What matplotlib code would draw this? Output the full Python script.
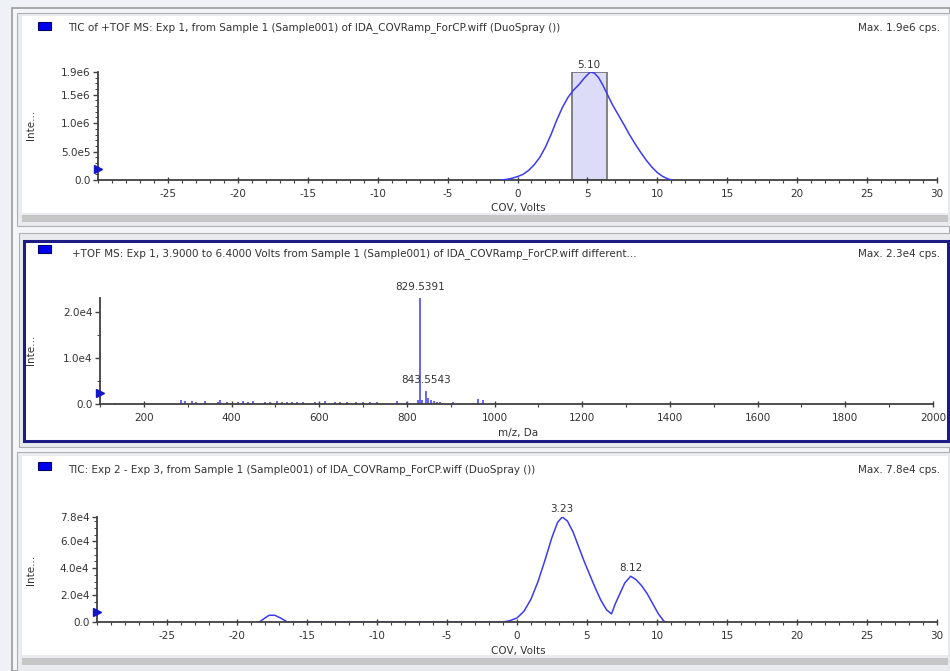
import matplotlib.pyplot as plt
import numpy as np
from matplotlib.patches import Rectangle
from matplotlib.ticker import MultipleLocator, FixedLocator

plt.rcParams['axes.unicode_minus'] = False

# --- data ---
# panel 1: TIC of +TOF MS, Exp 1
cov1 = [-1.2, -0.8, -0.4, 0, 0.4, 0.8, 1.2, 1.6, 2, 2.4, 2.8, 3.2, 3.6, 4,
        4.4, 4.8, 5.2, 5.5, 5.8, 6.1, 6.4, 6.8, 7.2, 7.6, 8, 8.4, 8.8, 9.2,
        9.6, 10, 10.4, 10.8, 11.1]
tic1 = [0, 0.01, 0.03, 0.06, 0.1, 0.17, 0.27, 0.4, 0.58, 0.8, 1.05, 1.27,
        1.45, 1.58, 1.68, 1.8, 1.9, 1.88, 1.8, 1.67, 1.52, 1.32, 1.15, 0.98,
        0.8, 0.64, 0.49, 0.35, 0.23, 0.13, 0.06, 0.015, 0]
tic1 = [v * 1e6 for v in tic1]
sel_range = (3.9, 6.4)
peaks1 = [(5.10, 1.9e6)]

# panel 2: spectrum summed over 3.9 - 6.4 V
mz = [134, 284, 294, 309, 320, 340, 370, 374, 389, 415, 427, 438, 450, 476,
      488, 503, 514, 526, 537, 549, 564, 590, 613, 636, 647, 663, 685, 701,
      716, 731, 777, 800, 826, 829.5391, 834, 843.5543, 849, 855, 861, 868,
      876, 906, 962, 974]
inten = [300, 900, 600, 700, 500, 600, 400, 800, 500, 400, 600, 500, 600,
         400, 500, 600, 400, 500, 400, 500, 400, 500, 600, 400, 500, 400,
         500, 500, 400, 500, 600, 500, 800, 23000, 900, 2900, 1300, 900,
         700, 500, 400, 400, 1100, 900]
peaks2 = [(829.5391, 23000), (843.5543, 2900)]

# panel 3: TIC Exp 2 - Exp 3
cov3 = [-18.4, -18, -17.7, -17.3, -16.9, -16.4, -1, -0.5, 0, 0.5, 1, 1.5,
        2, 2.5, 2.9, 3.23, 3.6, 4, 4.4, 4.8, 5.2, 5.6, 6, 6.4, 6.75, 7.0,
        7.3, 7.7, 8.12, 8.5, 8.9, 9.3, 9.7, 10.1, 10.5, 10.7]
tic3 = [0, 0.3, 0.5, 0.5, 0.3, 0, 0, 0.1, 0.3, 0.8, 1.7, 3.0, 4.6, 6.3,
        7.4, 7.8, 7.5, 6.7, 5.6, 4.5, 3.5, 2.5, 1.6, 0.9, 0.6, 1.3, 2.0,
        2.9, 3.4, 3.15, 2.7, 2.1, 1.35, 0.6, 0.05, 0]
tic3 = [v * 1e4 for v in tic3]
peaks3 = [(3.23, 7.8e4), (8.12, 3.4e4)]

titles = [
    "TIC of +TOF MS: Exp 1, from Sample 1 (Sample001) of IDA_COVRamp_ForCP.wiff (DuoSpray ())",
    "+TOF MS: Exp 1, 3.9000 to 6.4000 Volts from Sample 1 (Sample001) of IDA_COVRamp_ForCP.wiff different...",
    "TIC: Exp 2 - Exp 3, from Sample 1 (Sample001) of IDA_COVRamp_ForCP.wiff (DuoSpray ())",
]
maxlabels = ["Max. 1.9e6 cps.", "Max. 2.3e4 cps.", "Max. 7.8e4 cps."]

W, H = 950, 671
BLUE = '#3b3bf2'
TXT = '#333333'
FS = 7.5

fig = plt.figure(figsize=(W / 100, H / 100), dpi=100)
fig.patch.set_facecolor('#eef1f5')


def frac(x0, y0, x1, y1):
    return [x0 / W, 1 - y1 / H, (x1 - x0) / W, (y1 - y0) / H]


def box(x0, y0, x1, y1, fc, ec='none', lw=0):
    r = Rectangle((x0 / W, 1 - y1 / H), (x1 - x0) / W, (y1 - y0) / H,
                  transform=fig.transFigure, fc=fc, ec=ec, lw=lw, zorder=-5)
    fig.add_artist(r)


def ftext(x, y, s, **kw):
    kw.setdefault('fontsize', FS)
    kw.setdefault('color', TXT)
    fig.text(x / W, 1 - y / H, s, **kw)


# window frame
box(12, 8, 950, 671, '#f3f5f8', '#9a9a9a', 1.2)
# panel 1
box(17, 13, 950, 226, '#e9ebee', '#b0b0b0', 0.8)
box(22, 16, 948, 213, 'white')
box(22, 215, 948, 222, '#c6c6c6')
# panel 2 (selected, navy border)
box(19, 233, 950, 447, '#e9ebee', '#b0b0b0', 0.8)
box(24, 241, 948, 441, 'white', '#1c1c84', 2.2)
# panel 3
box(17, 452, 950, 671, '#e9ebee', '#b0b0b0', 0.8)
box(22, 456, 948, 655, 'white')
box(22, 658, 948, 665, '#c6c6c6')


def style(ax):
    for s in ['top', 'right']:
        ax.spines[s].set_visible(False)
    for s in ['left', 'bottom']:
        ax.spines[s].set_color('#404040')
        ax.spines[s].set_linewidth(1.3)
    ax.set_facecolor('none')
    ax.tick_params(axis='x', which='major', direction='inout', length=5,
                   width=1, colors='#404040', labelcolor=TXT, labelsize=FS, pad=4)
    ax.tick_params(axis='x', which='minor', direction='out', length=2.5,
                   width=0.8, colors='#404040')
    ax.tick_params(axis='y', which='major', direction='out', length=3.5,
                   width=1, colors='#404040', labelcolor=TXT, labelsize=FS, pad=2)
    ax.tick_params(axis='y', which='minor', direction='out', length=2,
                   width=0.7, colors='#404040')
    # threshold marker
    ax.plot([0], [0.1], marker='>', ms=6, color='#1515c8', transform=ax.transAxes,
            clip_on=False, zorder=5)


def cov_axis(ax):
    ax.set_xlim(-30, 30)
    ax.xaxis.set_major_locator(FixedLocator([-25, -20, -15, -10, -5, 0, 5, 10, 15, 20, 25, 30]))
    ax.xaxis.set_minor_locator(MultipleLocator(1))


# ---- panel 1 ----
ax1 = fig.add_axes(frac(98, 72, 937, 180))
ax1.axvspan(sel_range[0], sel_range[1], fc='#dcdcf9', ec='#6f6f6f', lw=1.2, zorder=1)
ax1.plot(cov1, tic1, color=BLUE, lw=1.1, zorder=3)
ax1.set_ylim(0, 1.9e6)
cov_axis(ax1)
ax1.yaxis.set_major_locator(FixedLocator([0, 5e5, 1e6, 1.5e6, 1.9e6]))
ax1.set_yticklabels(['0.0', '5.0e5', '1.0e6', '1.5e6', '1.9e6'])
ax1.yaxis.set_minor_locator(MultipleLocator(1e5))
for x, y in peaks1:
    ax1.annotate(f"{x:.2f}", (x, y), xytext=(0, 1.5), textcoords='offset points',
                 ha='center', va='bottom', fontsize=FS, color=TXT)
style(ax1)

# ---- panel 2 ----
ax2 = fig.add_axes(frac(100, 298, 933, 404))
ax2.vlines(mz, 0, inten, color=BLUE, lw=1.1)
ax2.set_xlim(100, 2000)
ax2.set_ylim(0, 2.3e4)
ax2.xaxis.set_major_locator(MultipleLocator(200))
ax2.xaxis.set_minor_locator(MultipleLocator(100))
ax2.yaxis.set_major_locator(FixedLocator([0, 1e4, 2e4]))
ax2.set_yticklabels(['0.0', '1.0e4', '2.0e4'])
ax2.yaxis.set_minor_locator(MultipleLocator(5e3))
for x, y in peaks2:
    ax2.annotate(f"{x:.4f}", (x, y), xytext=(0, 4), textcoords='offset points',
                 ha='center', va='bottom', fontsize=FS, color=TXT)
style(ax2)

# ---- panel 3 ----
ax3 = fig.add_axes(frac(97, 517, 937, 622))
ax3.plot(cov3, tic3, color=BLUE, lw=1.1)
ax3.set_ylim(0, 7.8e4)
cov_axis(ax3)
ax3.yaxis.set_major_locator(FixedLocator([0, 2e4, 4e4, 6e4, 7.8e4]))
ax3.set_yticklabels(['0.0', '2.0e4', '4.0e4', '6.0e4', '7.8e4'])
ax3.yaxis.set_minor_locator(MultipleLocator(5e3))
for x, y in peaks3:
    ax3.annotate(f"{x:.2f}", (x, y), xytext=(0, 2), textcoords='offset points',
                 ha='center', va='bottom', fontsize=FS, color=TXT)
style(ax3)

# headers, legend squares, axis labels
head_y = [28, 254, 470]
sq_y = [22, 245, 462]
xlab = [("COV, Volts", 518, 208), ("m/z, Da", 518, 433), ("COV, Volts", 518, 651)]
ylab_y = [125, 350, 570]
for i in range(3):
    box(38, sq_y[i], 51, sq_y[i] + 8, '#0000ee', '#00006a', 0.8)
    ftext(68 if i != 1 else 72, head_y[i], titles[i], va='center', ha='left')
    ftext(940, head_y[i], maxlabels[i], va='center', ha='right')
    ftext(xlab[i][1], xlab[i][2], xlab[i][0], va='center', ha='center')
    ftext(31, ylab_y[i], "Inte...", va='center', ha='center', rotation=90)

fig.savefig('out.png', dpi=100, facecolor=fig.get_facecolor())
